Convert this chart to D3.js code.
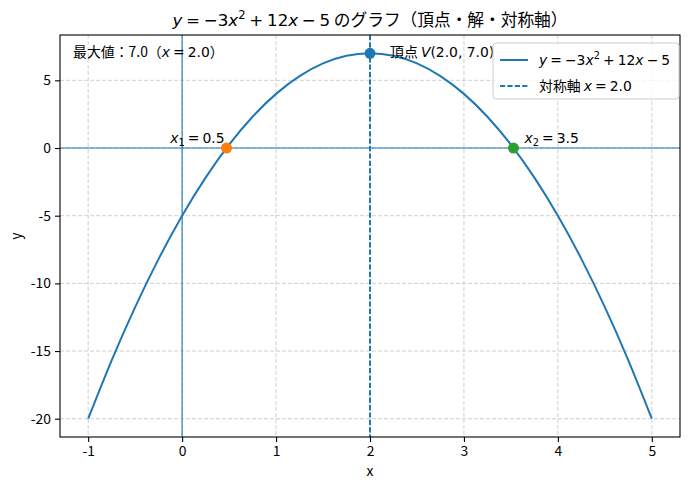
<!DOCTYPE html>
<meta charset="utf-8">
<html>
<head>
<script src="https://cdn.jsdelivr.net/npm/d3@7"></script>
<style>
  body { margin: 0; background: #fff; }
  svg text { fill: #000; }
</style>
</head>
<body>
<div id="chart"></div>
<script>
// sampled points of the curve y = -3x^2 + 12x - 5
const curveX = [-1, -0.75, -0.5, -0.25, 0, 0.25, 0.5, 0.75, 1, 1.25, 1.5, 1.75, 2,
                2.25, 2.5, 2.75, 3, 3.25, 3.5, 3.75, 4, 4.25, 4.5, 4.75, 5];
const curveY = [-20, -15.6875, -11.75, -8.1875, -5, -2.1875, 0.25, 2.3125, 4, 5.3125, 6.25, 6.8125, 7,
                6.8125, 6.25, 5.3125, 4, 2.3125, 0.25, -2.1875, -5, -8.1875, -11.75, -15.6875, -20];
// vertex and roots
const vertex = {x: 2.0, y: 7.0};
const roots = [0.4725, 3.5275];
const rootLabels = ["0.5", "3.5"];
const xTicks = [-1, 0, 1, 2, 3, 4, 5];
const yTicks = [-20, -15, -10, -5, 0, 5];

const W = 690, H = 489;
const margin = {top: 35, right: 10, bottom: 52, left: 60};
const width = W - margin.left - margin.right,
      height = H - margin.top - margin.bottom;

const C0 = "#1f77b4", C1 = "#ff7f0e", C2 = "#2ca02c";
const CJK = "'Noto Sans CJK JP', sans-serif";
const DJ = "'DejaVu Sans', sans-serif";

const svg = d3.select("#chart").append("svg")
    .attr("width", W).attr("height", H);
const g = svg.append("g")
    .attr("transform", `translate(${margin.left},${margin.top})`);

const x = d3.scaleLinear().domain([-1.3, 5.3]).range([0, width]);
const y = d3.scaleLinear().domain([-21.35, 8.35]).range([height, 0]);

// mixed text: parts [text, kind]; kind: c = cjk, m = math roman, i = math italic, sup, sub
// "_" inside a part stands for a narrow math space
function mtext(sel, parts, size) {
  let curShift = 0, gap = 0;
  parts.forEach(([t, k]) => {
    const shift = k === "sup" ? -size * 0.4 : k === "sub" ? size * 0.2 : 0;
    t.split("_").forEach((p, j) => {
      if (j > 0) gap += size * 0.22;
      if (p === "") return;
      const ts = sel.append("tspan").text(p)
          .style("font-family", k === "c" ? CJK : DJ);
      if (k === "i") ts.style("font-style", "italic");
      if (k === "sup" || k === "sub") ts.style("font-size", (size * 0.7) + "px");
      if (gap) { ts.attr("dx", gap); gap = 0; }
      if (shift !== curShift) { ts.attr("dy", shift - curShift); curShift = shift; }
    });
  });
  return sel;
}

// grid
g.append("g").selectAll("line").data(xTicks).join("line")
    .attr("x1", d => x(d)).attr("x2", d => x(d)).attr("y1", 0).attr("y2", height)
    .attr("stroke", "#b0b0b0").attr("stroke-opacity", 0.6).attr("stroke-width", 1)
    .attr("stroke-dasharray", "4,2");
g.append("g").selectAll("line").data(yTicks).join("line")
    .attr("y1", d => y(d)).attr("y2", d => y(d)).attr("x1", 0).attr("x2", width)
    .attr("stroke", "#b0b0b0").attr("stroke-opacity", 0.6).attr("stroke-width", 1)
    .attr("stroke-dasharray", "4,2");

// zero lines
g.append("line").attr("x1", 0).attr("x2", width).attr("y1", y(0)).attr("y2", y(0))
    .attr("stroke", C0).attr("stroke-width", 1.1);
g.append("line").attr("x1", x(0)).attr("x2", x(0)).attr("y1", 0).attr("y2", height)
    .attr("stroke", C0).attr("stroke-width", 1.1);

// curve
const pts = curveX.map((d, i) => [d, curveY[i]]);
g.append("path").datum(pts)
    .attr("d", d3.line().x(d => x(d[0])).y(d => y(d[1])).curve(d3.curveNatural))
    .attr("fill", "none").attr("stroke", C0).attr("stroke-width", 2);

// axis of symmetry
g.append("line").attr("x1", x(vertex.x)).attr("x2", x(vertex.x)).attr("y1", 0).attr("y2", height)
    .attr("stroke", C0).attr("stroke-width", 2).attr("stroke-dasharray", "5.2,2.2");

// markers
g.append("circle").attr("cx", x(vertex.x)).attr("cy", y(vertex.y)).attr("r", 5.5).attr("fill", C0);
g.selectAll(".root").data(roots).join("circle").attr("class", "root")
    .attr("cx", d => x(d)).attr("cy", y(0)).attr("r", 5.5)
    .attr("fill", (d, i) => i === 0 ? C1 : C2);

// annotations
const fs = 13.9;
mtext(g.append("text").attr("x", x(vertex.x) + 20).attr("y", y(vertex.y) + 4)
    .style("font-size", fs + "px"),
  [["頂点 ", "c"], ["V", "i"], ["(2.0, 7.0)", "m"]], fs);
mtext(g.append("text").attr("x", x(roots[0]) - 2).attr("y", y(0) - 5)
    .attr("text-anchor", "end").style("font-size", fs + "px"),
  [["x", "i"], ["1", "sub"], ["_=_" + rootLabels[0], "m"]], fs);
mtext(g.append("text").attr("x", x(roots[1]) + 11).attr("y", y(0) - 5)
    .style("font-size", fs + "px"),
  [["x", "i"], ["2", "sub"], ["_=_" + rootLabels[1], "m"]], fs);
mtext(g.append("text").attr("x", 13).attr("y", 22).style("font-size", fs + "px"),
  [["最大値：7.0（", "c"], ["x", "i"], ["_=_2.0", "m"], ["）", "c"]], fs);

// spines
g.append("rect").attr("width", width).attr("height", height)
    .attr("fill", "none").attr("stroke", "#000").attr("stroke-width", 1.1);

// axes
const xAxis = g.append("g").attr("transform", `translate(0,${height})`)
    .call(d3.axisBottom(x).tickValues(xTicks).tickSize(5).tickPadding(4).tickFormat(d => String(d)));
const yAxis = g.append("g")
    .call(d3.axisLeft(y).tickValues(yTicks).tickSize(5).tickPadding(4).tickFormat(d => String(d)));
[xAxis, yAxis].forEach(a => {
  a.select(".domain").remove();
  a.selectAll("line").attr("stroke", "#000").attr("stroke-width", 1.1);
  a.selectAll("text").style("font-family", CJK).style("font-size", fs + "px").attr("fill", "#000");
});

// axis labels
svg.append("text").attr("x", margin.left + width / 2).attr("y", 476)
    .attr("text-anchor", "middle").style("font-family", CJK).style("font-size", fs + "px").text("x");
svg.append("text").attr("transform", `translate(21,${margin.top + height / 2}) rotate(-90)`)
    .attr("text-anchor", "middle").style("font-family", CJK).style("font-size", fs + "px").text("y");

// title
const ts = 16.7;
mtext(svg.append("text").attr("x", margin.left + width / 2).attr("y", 26)
    .attr("text-anchor", "middle").style("font-size", ts + "px"),
  [["y", "i"], ["_=_−3", "m"], ["x", "i"], ["2", "sup"], ["_+_12", "m"], ["x", "i"],
   ["_−_5", "m"], [" のグラフ（頂点・解・対称軸）", "c"]], ts);

// legend
const lg = g.append("g").attr("transform", `translate(${width - 187},8)`);
lg.append("rect").attr("width", 186).attr("height", 56).attr("rx", 3)
    .attr("fill", "#fff").attr("fill-opacity", 0.8).attr("stroke", "#ccc").attr("stroke-width", 1);
lg.append("line").attr("x1", 7).attr("x2", 35).attr("y1", 17).attr("y2", 17)
    .attr("stroke", C0).attr("stroke-width", 2);
lg.append("line").attr("x1", 7).attr("x2", 35).attr("y1", 43).attr("y2", 43)
    .attr("stroke", C0).attr("stroke-width", 2).attr("stroke-dasharray", "5.2,2.2");
mtext(lg.append("text").attr("x", 46).attr("y", 22).style("font-size", fs + "px"),
  [["y", "i"], ["_=_−3", "m"], ["x", "i"], ["2", "sup"], ["_+_12", "m"], ["x", "i"], ["_−_5", "m"]], fs);
mtext(lg.append("text").attr("x", 46).attr("y", 48).style("font-size", fs + "px"),
  [["対称軸 ", "c"], ["x", "i"], ["_=_2.0", "m"]], fs);
</script>
</body>
</html>
